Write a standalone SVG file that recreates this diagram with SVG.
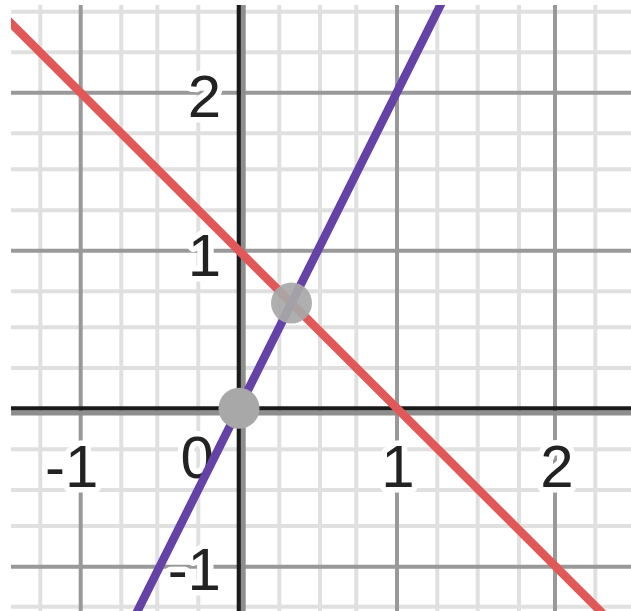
<svg xmlns="http://www.w3.org/2000/svg" width="631" height="611" viewBox="0 0 631 611">
  <defs>
    <clipPath id="plot"><rect x="11" y="5" width="620" height="606"/></clipPath>
    <style>
      .minor { stroke: #e0e0e0; stroke-width: 4; }
      .major { stroke: #999999; stroke-width: 4; }
      .axis { stroke: #1a1a1a; stroke-width: 4.2; }
      .axis-shade { stroke: #8e8e8e; stroke-width: 4.8; }
      .lbl { font-family: "Liberation Sans", Arial, sans-serif; font-size: 60px; fill: #222222; stroke: #ffffff; stroke-width: 11; stroke-linejoin: round; paint-order: stroke; }
      .red { stroke: #e15858; stroke-width: 8.5; fill: none; }
      .purple { stroke: #6442a6; stroke-width: 8.5; fill: none; }
      .pt { fill: #a8a8a8; }
    </style>
  </defs>
  <rect x="0" y="0" width="631" height="611" fill="#ffffff"/>
  <g id="grid" clip-path="url(#plot)">
    <g id="minor-vertical" class="minor">
      <line x1="40.3" y1="5" x2="40.3" y2="611"/>
      <line x1="121.3" y1="5" x2="121.3" y2="611"/>
      <line x1="157.3" y1="5" x2="157.3" y2="611"/>
      <line x1="198.3" y1="5" x2="198.3" y2="611"/>
      <line x1="279.3" y1="5" x2="279.3" y2="611"/>
      <line x1="320" y1="5" x2="320" y2="611"/>
      <line x1="356.3" y1="5" x2="356.3" y2="611"/>
      <line x1="437.3" y1="5" x2="437.3" y2="611"/>
      <line x1="477.7" y1="5" x2="477.7" y2="611"/>
      <line x1="519" y1="5" x2="519" y2="611"/>
      <line x1="595.3" y1="5" x2="595.3" y2="611"/>
    </g>
    <g id="minor-horizontal" class="minor">
      <line x1="11" y1="11.7" x2="631" y2="11.7"/>
      <line x1="11" y1="52.3" x2="631" y2="52.3"/>
      <line x1="11" y1="133.3" x2="631" y2="133.3"/>
      <line x1="11" y1="169.3" x2="631" y2="169.3"/>
      <line x1="11" y1="210.3" x2="631" y2="210.3"/>
      <line x1="11" y1="291.3" x2="631" y2="291.3"/>
      <line x1="11" y1="327.3" x2="631" y2="327.3"/>
      <line x1="11" y1="368" x2="631" y2="368"/>
      <line x1="11" y1="449.3" x2="631" y2="449.3"/>
      <line x1="11" y1="490" x2="631" y2="490"/>
      <line x1="11" y1="526" x2="631" y2="526"/>
      <line x1="11" y1="606.7" x2="631" y2="606.7"/>
    </g>
    <g id="major" class="major">
      <line x1="80.7" y1="5" x2="80.7" y2="611"/>
      <line x1="397" y1="5" x2="397" y2="611"/>
      <line x1="555" y1="5" x2="555" y2="611"/>
      <line x1="11" y1="92.7" x2="631" y2="92.7"/>
      <line x1="11" y1="250.7" x2="631" y2="250.7"/>
      <line x1="11" y1="566.7" x2="631" y2="566.7"/>
    </g>
    <g id="axes">
      <line class="axis-shade" x1="243.3" y1="5" x2="243.3" y2="611"/>
      <line class="axis-shade" x1="11" y1="413.2" x2="631" y2="413.2"/>
      <line class="axis" x1="238.8" y1="5" x2="238.8" y2="611"/>
      <line class="axis" x1="11" y1="408.4" x2="631" y2="408.4"/>
    </g>
  </g>
  <g id="labels">
    <text class="lbl" x="221" y="117" text-anchor="end">2</text>
    <text class="lbl" x="221" y="276" text-anchor="end">1</text>
    <text class="lbl" x="221" y="590" text-anchor="end">-1</text>
    <text class="lbl" x="180.5" y="478">0</text>
    <text class="lbl" x="45" y="487">-1</text>
    <text class="lbl" x="398" y="487" text-anchor="middle">1</text>
    <text class="lbl" x="557" y="487" text-anchor="middle">2</text>
  </g>
  <g id="connectors" clip-path="url(#plot)">
    <line id="line-red" class="red" x1="0" y1="12.3" x2="640" y2="650.7"/>
    <line id="line-purple" class="purple" x1="443" y1="0" x2="136" y2="614"/>
  </g>
  <g id="point-origin"><circle class="pt" cx="239" cy="408.3" r="20.5"/></g>
  <g id="point-intersection"><circle class="pt" cx="291.5" cy="303" r="20.5" fill-opacity="0.92"/></g>
</svg>
